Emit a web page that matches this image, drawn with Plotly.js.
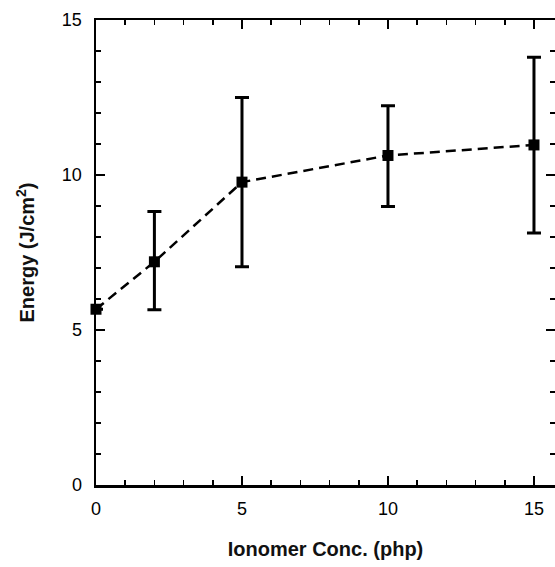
<!DOCTYPE html>
<html>
<head>
<meta charset="utf-8">
<script src="https://cdn.plot.ly/plotly-3.0.1.min.js"></script>
<style>html,body{margin:0;padding:0;background:#fff;}#chart{width:555px;height:567px;}</style>
</head>
<body>
<div id="chart"></div>
<script>
const conc = [0, 2, 5, 10, 15];
const energy = [5.67, 7.2, 9.77, 10.63, 10.97];
const errUp = [0, 1.62, 2.73, 1.6, 2.83];
const errDown = [0, 1.55, 2.73, 1.65, 2.84];
const xTicks = [0, 5, 10, 15];
const yTicks = [0, 5, 10, 15];

const trace = {
  x: conc, y: energy, type: 'scatter', mode: 'lines+markers',
  line: {color: '#000', width: 2.5, dash: '10px,6px'},
  marker: {symbol: 'square', size: 11, color: '#000'},
  error_y: {type: 'data', symmetric: false, array: errUp, arrayminus: errDown,
            color: '#000', thickness: 3, width: 7},
  showlegend: false, cliponaxis: false
};

const axisCommon = {
  showgrid: false, zeroline: false, showline: true, linecolor: '#000', linewidth: 2.5,
  mirror: 'allticks', ticks: 'inside', ticklen: 9, tickwidth: 2.5, tickcolor: '#000',
  tickfont: {family: 'Liberation Sans, Arial, sans-serif', size: 18, color: '#000'}
};

const titleFont = {family: 'Liberation Sans, Arial, sans-serif', size: 20, color: '#111', weight: 600};

const layout = {
  width: 555, height: 567,
  margin: {l: 96, r: 0, t: 20, b: 82},
  paper_bgcolor: '#fff', plot_bgcolor: '#fff',
  xaxis: Object.assign({}, axisCommon, {
    range: [0, 15.72], tickvals: xTicks, ticktext: xTicks.map(String),
    minor: {dtick: 1, tick0: 0, ticks: 'inside', ticklen: 5, tickwidth: 1.5, tickcolor: '#000', showgrid: false},
    ticklabelstandoff: 6,
    title: {text: 'Ionomer Conc. (php)', standoff: 24, font: titleFont}
  }),
  yaxis: Object.assign({}, axisCommon, {
    range: [0, 15], tickvals: yTicks, ticktext: yTicks.map(String),
    minor: {dtick: 1, tick0: 0, ticks: 'inside', ticklen: 5, tickwidth: 1.5, tickcolor: '#000', showgrid: false},
    ticklabelstandoff: 8,
    title: {text: 'Energy (J/cm<sup>2</sup>)', standoff: 22, font: titleFont}
  })
};

Plotly.newPlot('chart', [trace], layout, {displayModeBar: false, staticPlot: true});
</script>
</body>
</html>
